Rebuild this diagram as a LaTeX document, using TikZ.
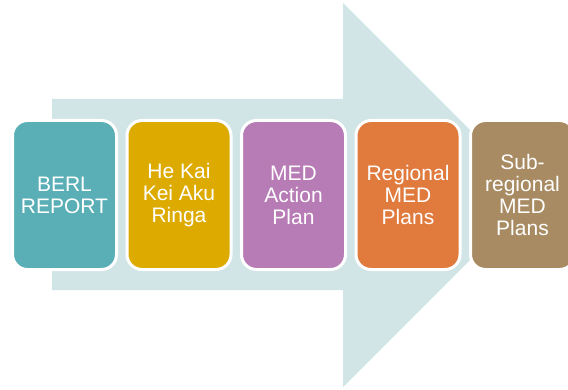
\documentclass[tikz,border=0pt]{standalone}
\usepackage{fontspec}
\setmainfont{Liberation Sans}
\usetikzlibrary{positioning}

\definecolor{arrowbg}{HTML}{D1E4E6}
\definecolor{berlteal}{HTML}{5AAFB7}
\definecolor{kaigold}{HTML}{DDAB00}
\definecolor{medpurple}{HTML}{B77BB5}
\definecolor{regorange}{HTML}{E07A3D}
\definecolor{subbrown}{HTML}{A88B62}

\tikzset{
  stage/.style={rounded corners=15pt, draw=white, line width=3pt,
    minimum width=104pt, minimum height=149pt, text=white, align=center,
    font=\fontsize{21}{22}\selectfont, inner sep=2pt}
}

\begin{document}
\begin{tikzpicture}[x=1pt,y=1pt]
  \useasboundingbox (0,0) rectangle (568,389);
  \clip (0,0) rectangle (568,389);
  % big background arrow
  \fill[arrowbg] (52,99) -- (343,99) -- (343,2) -- (535,194)
    -- (343,386) -- (343,290) -- (52,290) -- cycle;
  % the five stages
  \node[stage, fill=berlteal] (berl) at (64.5,194) {BERL\\REPORT};
  \node[stage, fill=kaigold, right=7.5pt of berl] (kai) {He Kai\\Kei Aku\\Ringa};
  \node[stage, fill=medpurple, right=7.5pt of kai] (action) {MED\\Action\\Plan};
  \node[stage, fill=regorange, right=7.5pt of action] (regional) {Regional\\MED\\Plans};
  \node[stage, fill=subbrown, right=7.5pt of regional] (subreg) {Sub-\\regional\\MED\\Plans};
\end{tikzpicture}
\end{document}
